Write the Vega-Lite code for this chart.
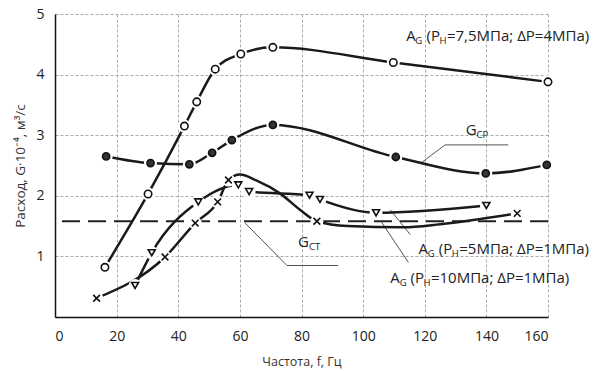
{
  "$schema": "https://vega.github.io/schema/vega-lite/v6.json",
  "autosize": {"type": "none"},
  "padding": {"left": 55, "top": 14, "right": 49, "bottom": 54},
  "width": 493,
  "height": 303,
  "background": "white",
  "config": {
    "view": {"stroke": null},
    "font": "Open Sans",
    "axis": {"labelFont": "Open Sans", "titleFont": "Open Sans", "labelColor": "#222", "titleColor": "#333", "titleFontWeight": "normal"}
  },
  "datasets": {
    "series": [
      {"s": "A75", "f": 16.2, "g": 0.82, "m": 1},
      {"s": "A75", "f": 30.2, "g": 2.03, "m": 1},
      {"s": "A75", "f": 42, "g": 3.15, "m": 1},
      {"s": "A75", "f": 46, "g": 3.55, "m": 1},
      {"s": "A75", "f": 52, "g": 4.09, "m": 1},
      {"s": "A75", "f": 60.3, "g": 4.34, "m": 1},
      {"s": "A75", "f": 70.7, "g": 4.45, "m": 1},
      {"s": "A75", "f": 109.8, "g": 4.2, "m": 1},
      {"s": "A75", "f": 160, "g": 3.88, "m": 1},
      {"s": "GCP", "f": 16.6, "g": 2.65, "m": 1},
      {"s": "GCP", "f": 31, "g": 2.54, "m": 1},
      {"s": "GCP", "f": 43.6, "g": 2.52, "m": 1},
      {"s": "GCP", "f": 51, "g": 2.71, "m": 1},
      {"s": "GCP", "f": 57.4, "g": 2.92, "m": 1},
      {"s": "GCP", "f": 70.7, "g": 3.17, "m": 1},
      {"s": "GCP", "f": 110.6, "g": 2.64, "m": 1},
      {"s": "GCP", "f": 139.8, "g": 2.37, "m": 1},
      {"s": "GCP", "f": 159.6, "g": 2.51, "m": 1},
      {"s": "A5", "f": 26, "g": 0.52, "m": 1},
      {"s": "A5", "f": 31.4, "g": 1.06, "m": 1},
      {"s": "A5", "f": 46.5, "g": 1.9, "m": 1},
      {"s": "A5", "f": 59.5, "g": 2.18, "m": 1},
      {"s": "A5", "f": 63, "g": 2.07, "m": 1},
      {"s": "A5", "f": 82.6, "g": 2.01, "m": 1},
      {"s": "A5", "f": 86, "g": 1.94, "m": 1},
      {"s": "A5", "f": 104.2, "g": 1.72, "m": 1},
      {"s": "A5", "f": 140, "g": 1.84, "m": 1},
      {"s": "A10", "f": 13.5, "g": 0.31, "m": 1},
      {"s": "A10", "f": 35.7, "g": 0.99, "m": 1},
      {"s": "A10", "f": 45.5, "g": 1.55, "m": 1},
      {"s": "A10", "f": 52.8, "g": 1.9, "m": 1},
      {"s": "A10", "f": 56.3, "g": 2.26, "m": 1},
      {"s": "A10", "f": 60, "g": 2.35, "m": 0},
      {"s": "A10", "f": 65.5, "g": 2.25, "m": 0},
      {"s": "A10", "f": 73, "g": 2.04, "m": 0},
      {"s": "A10", "f": 79.5, "g": 1.77, "m": 0},
      {"s": "A10", "f": 85, "g": 1.58, "m": 1},
      {"s": "A10", "f": 95, "g": 1.5, "m": 0},
      {"s": "A10", "f": 113, "g": 1.48, "m": 0},
      {"s": "A10", "f": 125, "g": 1.53, "m": 0},
      {"s": "A10", "f": 150, "g": 1.71, "m": 1}
    ],
    "leaders": [
      {"x": 126.6, "y": 2.84, "x2": 118.5, "y2": 2.53},
      {"x": 126.6, "y": 2.84, "x2": 147.1, "y2": 2.84},
      {"x": 61.7, "y": 1.55, "x2": 75.3, "y2": 0.85},
      {"x": 75.3, "y": 0.85, "x2": 91.9, "y2": 0.85},
      {"x": 108.8, "y": 1.77, "x2": 115.3, "y2": 1.36},
      {"x": 105.8, "y": 1.58, "x2": 114.7, "y2": 0.9}
    ],
    "bigText": [
      {"x": 113.96, "y": 4.55, "t": "A"},
      {"x": 120.57, "y": 4.55, "t": "(P"},
      {"x": 127.2, "y": 4.55, "t": "=7,5МПа; ΔP=4МПа)"},
      {"x": 133.3, "y": 3.0, "t": "G"},
      {"x": 78.9, "y": 1.15, "t": "G"},
      {"x": 117.96, "y": 1.04, "t": "A"},
      {"x": 124.57, "y": 1.04, "t": "(P"},
      {"x": 131.2, "y": 1.04, "t": "=5МПа; ΔP=1МПа)"},
      {"x": 108.77, "y": 0.56, "t": "A"},
      {"x": 115.37, "y": 0.56, "t": "(P"},
      {"x": 122.0, "y": 0.56, "t": "=10МПа; ΔP=1МПа)"}
    ],
    "smallText": [
      {"x": 116.9, "y": 4.55, "t": "G"},
      {"x": 124.8, "y": 4.55, "t": "H"},
      {"x": 136.8, "y": 3.0, "t": "CP"},
      {"x": 82.4, "y": 1.15, "t": "CT"},
      {"x": 121.0, "y": 1.04, "t": "G"},
      {"x": 128.8, "y": 1.04, "t": "H"},
      {"x": 111.85, "y": 0.56, "t": "G"},
      {"x": 119.6, "y": 0.56, "t": "H"}
    ],
    "gct": [{"g": 1.58}]
  },
  "layer": [
    {
      "data": {"name": "gct"},
      "mark": {"type": "rule", "color": "#222", "strokeWidth": 2, "strokeDash": [18, 8]},
      "encoding": {
        "y": {"field": "g", "type": "quantitative", "scale": {"domain": [0, 5], "nice": false},
          "axis": {"title": "Расход, G·10⁻⁴, м³/с", "values": [1, 2, 3, 4, 5], "format": "d", "grid": true, "gridColor": "#aaa", "gridDash": [3, 2], "gridWidth": 1, "ticks": false, "domainColor": "#111", "domainWidth": 1.5, "labelFontSize": 14, "labelPadding": 11, "titleFontSize": 13.5, "titlePadding": 8}}
      }
    },
    {
      "data": {"name": "leaders"},
      "mark": {"type": "rule", "color": "#555", "strokeWidth": 1},
      "encoding": {
        "x": {"field": "x", "type": "quantitative", "scale": {"domain": [0, 160], "nice": false},
          "axis": {"title": "Частота, f, Гц", "values": [0, 20, 40, 60, 80, 100, 120, 140, 160], "format": "d", "grid": true, "gridColor": "#aaa", "gridDash": [3, 2], "gridWidth": 1, "ticks": false, "domainColor": "#111", "domainWidth": 1.5, "labelFontSize": 14, "labelPadding": 12, "titleFontSize": 12.5, "titlePadding": 12}},
        "y": {"field": "y", "type": "quantitative"},
        "x2": {"field": "x2"},
        "y2": {"field": "y2"}
      }
    },
    {
      "data": {"name": "series"},
      "mark": {"type": "line", "color": "#1a1a1a", "strokeWidth": 2.5, "interpolate": "monotone"},
      "encoding": {
        "x": {"field": "f", "type": "quantitative"},
        "y": {"field": "g", "type": "quantitative"},
        "detail": {"field": "s"}
      }
    },
    {
      "data": {"name": "series"},
      "transform": [{"filter": "datum.m == 1"}],
      "mark": {"type": "point", "shape": "circle", "filled": true, "color": "white", "size": 170, "opacity": 1},
      "encoding": {
        "x": {"field": "f", "type": "quantitative"},
        "y": {"field": "g", "type": "quantitative"}
      }
    },
    {
      "data": {"name": "series"},
      "transform": [{"filter": "datum.m == 1"}],
      "mark": {"type": "point", "stroke": "#111", "strokeWidth": 1.6, "opacity": 1},
      "encoding": {
        "x": {"field": "f", "type": "quantitative"},
        "y": {"field": "g", "type": "quantitative"},
        "shape": {"field": "s", "type": "nominal", "legend": null,
          "scale": {"domain": ["A75", "GCP", "A5", "A10"], "range": ["circle", "circle", "triangle-down", "M-1,-1L1,1M1,-1L-1,1"]}},
        "fill": {"field": "s", "type": "nominal", "legend": null,
          "scale": {"domain": ["A75", "GCP", "A5", "A10"], "range": ["white", "#333", "white", "white"]}},
        "size": {"field": "s", "type": "nominal", "legend": null,
          "scale": {"domain": ["A75", "GCP", "A5", "A10"], "range": [55, 45, 55, 40]}}
      }
    },
    {
      "data": {"name": "bigText"},
      "mark": {"type": "text", "align": "left", "baseline": "alphabetic", "fontSize": 15, "color": "#222", "font": "Open Sans"},
      "encoding": {
        "x": {"field": "x", "type": "quantitative"},
        "y": {"field": "y", "type": "quantitative"},
        "text": {"field": "t"}
      }
    },
    {
      "data": {"name": "smallText"},
      "mark": {"type": "text", "align": "left", "baseline": "alphabetic", "fontSize": 9.5, "dy": 3, "color": "#222", "font": "Open Sans"},
      "encoding": {
        "x": {"field": "x", "type": "quantitative"},
        "y": {"field": "y", "type": "quantitative"},
        "text": {"field": "t"}
      }
    }
  ]
}
